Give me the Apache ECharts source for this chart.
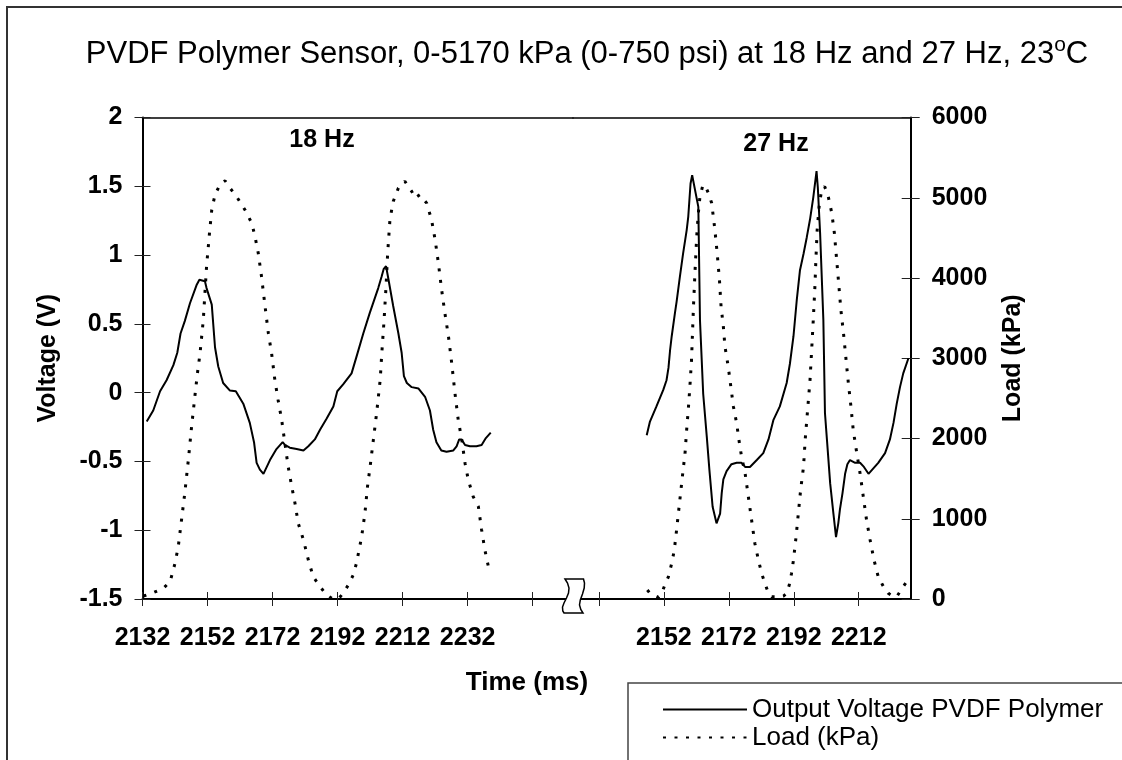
<!DOCTYPE html>
<html><head><meta charset="utf-8">
<script src="https://cdn.jsdelivr.net/npm/echarts@6/dist/echarts.min.js"></script>
<style>html,body{margin:0;padding:0;background:#fff}#c{width:1122px;height:760px}</style>
</head><body><div id="c"></div>
<script>
// ---- tick values / labels ----
const leftTickValues = [2132, 2152, 2172, 2192, 2212, 2232, 2252];
const leftTickLabels = [2132, 2152, 2172, 2192, 2212, 2232];
const rightTickValues = [2132, 2152, 2172, 2192, 2212];
const rightTickLabels = [2152, 2172, 2192, 2212];

// ---- 18 Hz segment ----
const leftVoltTime = [2133.3,2135.3,2137.4,2139.4,2141.5,2142.7,2143.7,2145.0,2146.6,2148.6,2149.5,2151.2,2151.7,2153.3,2154.3,2155.3,2156.8,2158.9,2160.7,2163.0,2165.0,2166.3,2167.1,2168.1,2169.2,2171.2,2173.2,2175.1,2175.8,2177.3,2179.4,2181.5,2183.0,2185.0,2186.6,2188.6,2190.7,2191.9,2193.7,2196.3,2197.8,2199.9,2201.9,2204.5,2205.5,2206.2,2206.9,2207.6,2209.1,2210.7,2211.7,2212.4,2213.3,2214.8,2216.9,2218.9,2220.4,2221.4,2222.4,2223.9,2225.5,2227.6,2228.6,2229.4,2230.1,2231.2,2232.7,2234.7,2236.3,2237.6,2239.1];
const leftVolt = [-0.21,-0.13,0.01,0.09,0.20,0.29,0.43,0.52,0.65,0.78,0.82,0.81,0.76,0.64,0.33,0.19,0.07,0.015,0.01,-0.08,-0.22,-0.36,-0.51,-0.56,-0.59,-0.49,-0.41,-0.36,-0.38,-0.40,-0.41,-0.42,-0.39,-0.34,-0.27,-0.19,-0.10,0.01,0.06,0.14,0.26,0.43,0.58,0.76,0.84,0.90,0.92,0.83,0.63,0.43,0.29,0.12,0.07,0.04,0.03,-0.03,-0.13,-0.27,-0.36,-0.42,-0.43,-0.42,-0.39,-0.34,-0.34,-0.38,-0.39,-0.39,-0.38,-0.33,-0.29];
const leftLoadTime = [2132.3,2135.3,2138.4,2140.5,2142.0,2143.0,2144.0,2145.0,2146.1,2147.1,2148.1,2148.9,2149.7,2150.7,2151.7,2152.6,2153.3,2154.3,2155.8,2157.4,2158.9,2160.9,2163.5,2165.6,2166.6,2167.6,2168.6,2169.7,2170.7,2171.7,2172.7,2173.7,2174.8,2175.8,2176.8,2177.9,2178.9,2179.9,2181.5,2183.0,2184.5,2186.6,2188.6,2190.2,2192.2,2193.7,2195.3,2196.8,2197.8,2199.4,2200.4,2201.2,2202.0,2203.0,2204.0,2205.1,2205.6,2206.3,2206.9,2207.4,2208.1,2209.1,2210.7,2212.7,2214.8,2215.8,2217.3,2219.4,2220.9,2222.0,2223.0,2224.0,2225.0,2226.1,2227.1,2228.1,2229.1,2230.2,2231.2,2232.2,2233.7,2235.3,2236.3,2237.3,2238.7];
const leftLoad = [37,79,133,216,445,653,985,1318,1733,2149,2523,2814,3063,3479,4144,4559,4850,5037,5162,5212,5121,5017,4850,4684,4518,4310,4019,3645,3313,3063,2731,2481,2232,1941,1650,1401,1193,943,736,486,278,154,50,8,0,71,175,299,445,777,1068,1401,1650,1983,2315,2731,3063,3479,3894,4310,4726,4954,5121,5204,5079,4996,5037,4933,4726,4476,4185,3853,3562,3271,2938,2564,2232,1983,1692,1484,1276,1151,860,611,341];

// ---- 27 Hz segment ----
const rightVoltTime = [2146.7,2147.7,2149.7,2151.8,2152.8,2153.4,2153.9,2154.4,2155.4,2155.9,2156.9,2157.9,2159.0,2159.5,2160.2,2160.7,2162.6,2163.1,2164.1,2165.2,2166.0,2167.0,2168.2,2168.8,2169.3,2169.8,2170.3,2171.3,2172.8,2174.4,2175.9,2177.0,2178.5,2180.6,2182.6,2184.2,2185.7,2187.7,2189.8,2190.8,2191.9,2192.9,2193.9,2195.0,2196.0,2197.0,2198.0,2199.0,2199.4,2200.1,2201.1,2201.6,2202.2,2203.2,2204.2,2205.0,2205.7,2206.2,2207.0,2207.8,2208.5,2209.3,2210.9,2212.4,2213.6,2215.0,2216.5,2218.0,2220.1,2221.6,2222.7,2223.7,2224.7,2225.7,2227.3];
const rightVolt = [-0.31,-0.21,-0.10,0.02,0.09,0.18,0.31,0.41,0.58,0.66,0.84,1.01,1.18,1.28,1.52,1.58,1.35,0.53,-0.01,-0.32,-0.56,-0.83,-0.95,-0.95,-0.88,-0.73,-0.63,-0.57,-0.52,-0.51,-0.51,-0.54,-0.54,-0.49,-0.44,-0.34,-0.20,-0.10,0.07,0.21,0.41,0.67,0.89,1.01,1.13,1.26,1.42,1.61,1.49,1.16,0.53,-0.15,-0.34,-0.66,-0.88,-1.05,-0.95,-0.85,-0.73,-0.59,-0.52,-0.49,-0.51,-0.51,-0.54,-0.59,-0.55,-0.51,-0.44,-0.34,-0.22,-0.08,0.04,0.14,0.25];
const rightLoadTime = [2146.9,2147.7,2150.3,2151.3,2152.3,2153.4,2154.4,2155.2,2155.9,2156.9,2157.8,2158.5,2159.0,2159.5,2160.0,2160.5,2160.8,2161.1,2161.6,2162.1,2162.6,2163.1,2163.9,2164.6,2165.7,2166.7,2167.7,2168.4,2169.1,2169.6,2170.3,2170.8,2171.8,2172.6,2173.4,2174.4,2175.1,2175.9,2177.0,2178.0,2179.0,2180.0,2181.1,2182.1,2183.1,2184.2,2185.2,2187.2,2188.8,2189.8,2190.6,2191.3,2191.9,2192.7,2193.4,2194.1,2195.0,2195.5,2196.0,2196.5,2197.0,2197.5,2198.0,2198.5,2198.8,2199.2,2199.8,2200.5,2201.5,2202.6,2203.7,2204.5,2205.2,2205.9,2206.5,2207.3,2208.1,2208.8,2209.6,2210.3,2211.4,2212.4,2213.4,2214.4,2215.5,2216.7,2218.0,2219.6,2221.1,2222.7,2223.7,2224.7,2225.7,2226.8];
const rightLoad = [112,71,21,71,175,279,445,611,860,1234,1567,1816,2107,2357,2648,2980,3313,3645,4102,4518,4809,5017,5141,5162,5058,4934,4601,4310,3978,3645,3396,3146,2897,2648,2398,2190,1983,1775,1567,1276,985,694,486,320,195,71,29,29,37,71,175,320,486,777,1068,1359,1650,1983,2232,2481,2731,3105,3479,3894,4227,4601,4892,5079,5141,5017,4809,4559,4227,3894,3603,3313,2980,2689,2398,2107,1816,1567,1276,985,736,486,278,154,71,29,29,91,154,216];

const zip = (a, b) => a.map((t, i) => [t, b[i]]);

const FONT = '"Liberation Sans", Arial, sans-serif';
const BOLD = 25;
const boldLabel = { color: '#000', fontFamily: FONT, fontWeight: 'bold', fontSize: BOLD };

const chart = echarts.init(document.getElementById('c'), null, { renderer: 'canvas' });

const BREAK_X = 573;
const PLOT_L = 142.5, PLOT_R = 910.7, PLOT_T = 117.5, PLOT_B = 599;
const W = 1122, H = 760;

function mainX(grid, min, max, ticks, labels) {
  return {
    type: 'value', gridIndex: grid, position: 'bottom', min: min, max: max,
    axisLine: { show: true, onZero: false, lineStyle: { color: '#000', width: 2 } },
    axisTick: { show: true, length: 7, customValues: ticks, lineStyle: { color: '#222', width: 1 } },
    axisLabel: { show: true, customValues: labels, margin: 27, formatter: v => String(v), ...boldLabel },
    splitLine: { show: false }
  };
}
function innerX(grid, min, max, ticks) {
  return {
    type: 'value', gridIndex: grid, position: 'bottom', min: min, max: max,
    axisLine: { show: false, onZero: false },
    axisTick: { show: true, inside: true, length: 7, customValues: ticks, lineStyle: { color: '#222', width: 1 } },
    axisLabel: { show: false }, splitLine: { show: false }
  };
}
function topX(grid, min, max) {
  return {
    type: 'value', gridIndex: grid, position: 'top', min: min, max: max,
    axisLine: { show: true, onZero: false, lineStyle: { color: '#000', width: 1.5 } },
    axisTick: { show: false }, axisLabel: { show: false }, splitLine: { show: false }
  };
}

const breakPts = [[565,579],[567.5,583],[569,588],[568.5,593],[566.5,598],[564,603],[562.5,607],[562.8,611],[564,613],
                  [583,613],[580.8,609.5],[579.5,605],[580.3,600],[582.5,594],[584.2,588],[584.5,583],[583.5,579]];

const loadLine = { color: '#000', width: 3, type: [3, 8.5], cap: 'butt' };

const option = {
  backgroundColor: '#fff',
  animation: false,
  title: {
    text: '{t|PVDF Polymer Sensor, 0-5170 kPa (0-750 psi) at 18 Hz and 27 Hz, 23}{s|o}{t|C}',
    left: 582, top: 30, textAlign: 'center',
    textStyle: {
      fontWeight: 'normal',
      rich: {
        t: { fontFamily: FONT, fontSize: 31, fontWeight: 'normal', color: '#000' },
        s: { fontFamily: FONT, fontSize: 21, fontWeight: 'normal', color: '#000', padding: [0, 0, 17, 0] }
      }
    }
  },
  legend: {
    data: ['Output Voltage PVDF Polymer', 'Load (kPa)'],
    orient: 'vertical', left: 628, top: 683, height: 120,
    padding: [13, 60, 20, 34],
    itemWidth: 84, itemHeight: 14, itemGap: 1,
    selectedMode: false,
    itemStyle: { opacity: 0 },
    borderColor: '#444', borderWidth: 1.5,
    textStyle: { fontFamily: FONT, fontSize: 26, color: '#000', lineHeight: 27 }
  },
  grid: [
    { left: PLOT_L, right: W - BREAK_X, top: PLOT_T, bottom: H - PLOT_B, containLabel: false },
    { left: BREAK_X, right: W - PLOT_R, top: PLOT_T, bottom: H - PLOT_B, containLabel: false }
  ],
  xAxis: [
    mainX(0, 2132, 2264.4, leftTickValues, leftTickLabels),
    innerX(0, 2132, 2264.4, leftTickValues),
    topX(0, 2132, 2264.4),
    mainX(1, 2124, 2228, rightTickValues, rightTickLabels),
    innerX(1, 2124, 2228, rightTickValues),
    topX(1, 2124, 2228)
  ],
  yAxis: [
    { type: 'value', gridIndex: 0, position: 'left', min: -1.5, max: 2, interval: 0.5,
      name: 'Voltage (V)', nameLocation: 'middle', nameGap: 82, nameRotate: 90,
      nameTextStyle: boldLabel,
      axisLine: { show: true, onZero: false, lineStyle: { color: '#000', width: 2 } },
      axisTick: { show: true, length: 8, lineStyle: { color: '#222', width: 1 } },
      axisLabel: { margin: 20, ...boldLabel }, splitLine: { show: false } },
    { type: 'value', gridIndex: 0, position: 'left', min: -1.5, max: 2, interval: 0.5,
      axisLine: { show: false, onZero: false },
      axisTick: { show: true, inside: true, length: 8, lineStyle: { color: '#222', width: 1 } },
      axisLabel: { show: false }, splitLine: { show: false } },
    { type: 'value', gridIndex: 0, position: 'right', min: 0, max: 6000, interval: 1000, show: false,
      axisLine: { onZero: false }, splitLine: { show: false } },
    { type: 'value', gridIndex: 1, position: 'right', min: 0, max: 6000, interval: 1000,
      name: 'Load (kPa)', nameLocation: 'middle', nameGap: 90, nameRotate: 90,
      nameTextStyle: boldLabel,
      axisLine: { show: true, onZero: false, lineStyle: { color: '#000', width: 2 } },
      axisTick: { show: true, length: 9, lineStyle: { color: '#222', width: 1 } },
      axisLabel: { margin: 21, formatter: v => String(v), ...boldLabel }, splitLine: { show: false } },
    { type: 'value', gridIndex: 1, position: 'right', min: 0, max: 6000, interval: 1000,
      axisLine: { show: false, onZero: false },
      axisTick: { show: true, inside: true, length: 9, lineStyle: { color: '#222', width: 1 } },
      axisLabel: { show: false }, splitLine: { show: false } },
    { type: 'value', gridIndex: 1, position: 'left', min: -1.5, max: 2, interval: 0.5, show: false,
      axisLine: { onZero: false }, splitLine: { show: false } }
  ],
  series: [
    { name: 'Output Voltage PVDF Polymer', type: 'line', xAxisIndex: 0, yAxisIndex: 0,
      data: zip(leftVoltTime, leftVolt), symbol: 'none', silent: true,
      lineStyle: { color: '#000', width: 2 }, itemStyle: { color: '#000' } },
    { name: 'Load (kPa)', type: 'line', xAxisIndex: 0, yAxisIndex: 2,
      data: zip(leftLoadTime, leftLoad), symbol: 'none', silent: true,
      lineStyle: loadLine, itemStyle: { color: '#000' } },
    { name: 'Output Voltage PVDF Polymer', type: 'line', xAxisIndex: 3, yAxisIndex: 5,
      data: zip(rightVoltTime, rightVolt), symbol: 'none', silent: true,
      lineStyle: { color: '#000', width: 2 }, itemStyle: { color: '#000' } },
    { name: 'Load (kPa)', type: 'line', xAxisIndex: 3, yAxisIndex: 3,
      data: zip(rightLoadTime, rightLoad), symbol: 'none', silent: true,
      lineStyle: loadLine, itemStyle: { color: '#000' } }
  ],
  graphic: [
    { type: 'rect', silent: true, z: 50, shape: { x: 7, y: 7, width: 1300, height: 900 },
      style: { fill: 'none', stroke: '#333', lineWidth: 2 } },
    { type: 'text', silent: true, z: 50, x: 322, y: 140,
      style: { text: '18 Hz', fontFamily: FONT, fontWeight: 'bold', fontSize: BOLD, fill: '#000', align: 'center', verticalAlign: 'middle' } },
    { type: 'text', silent: true, z: 50, x: 776, y: 144,
      style: { text: '27 Hz', fontFamily: FONT, fontWeight: 'bold', fontSize: BOLD, fill: '#000', align: 'center', verticalAlign: 'middle' } },
    { type: 'text', silent: true, z: 50, x: 527, y: 683,
      style: { text: 'Time (ms)', fontFamily: FONT, fontWeight: 'bold', fontSize: 26, fill: '#000', align: 'center', verticalAlign: 'middle' } },
    { type: 'polygon', silent: true, z: 100,
      shape: { points: breakPts },
      style: { fill: '#fff', stroke: '#000', lineWidth: 1.5 } }
  ]
};
chart.setOption(option);
</script>
</body></html>
